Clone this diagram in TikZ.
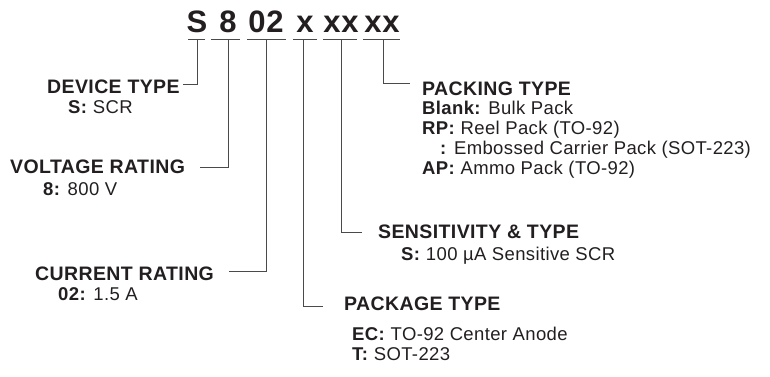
\documentclass[tikz,border=0pt]{standalone}
\usepackage{fontspec}
\setmainfont{Liberation Sans}[LetterSpace=2]
\definecolor{txt}{HTML}{231F20}
\definecolor{ln}{HTML}{4A4A4A}
\tikzset{
  lbl/.style={anchor=base west, inner sep=0pt, text=txt, font=\fontsize{18.5}{20}\selectfont},
  hd/.style={lbl, font=\fontsize{19.5}{21}\selectfont\bfseries},
  code/.style={anchor=base, inner sep=0pt, text=txt, font=\fontsize{31}{33}\selectfont\bfseries},
  bar/.style={draw=ln, line width=0.9pt},
  conn/.style={draw=ln, line width=0.9pt}
}
\begin{document}
\begin{tikzpicture}[x=1pt,y=-1pt]
\useasboundingbox (0,0) rectangle (770,376);
% code letters
\node[code] (cS) at (197,32) {S};
\node[code] (c8) at (228,32) {8};
\node[code] (c02) at (266,32) {02};
\node[code] (cx) at (305,32) {x};
\node[code] (cxx) at (341,32) {xx};
\node[code] (cyy) at (382,32) {xx};
% underbars
\coordinate (bS1) at (188,39); \coordinate (bS2) at (205,39);
\coordinate (b81) at (211,39); \coordinate (b82) at (240,39);
\coordinate (b021) at (247,39); \coordinate (b022) at (286,39);
\coordinate (bx1) at (293,39); \coordinate (bx2) at (317,39);
\coordinate (bxx1) at (323,39); \coordinate (bxx2) at (357,39);
\coordinate (byy1) at (363,39); \coordinate (byy2) at (400,39);
\draw[bar] (bS1) -- (bS2);
\draw[bar] (b81) -- (b82);
\draw[bar] (b021) -- (b022);
\draw[bar] (bx1) -- (bx2);
\draw[bar] (bxx1) -- (bxx2);
\draw[bar] (byy1) -- (byy2);
% drop points
\coordinate (dS) at (197,39);
\coordinate (d8) at (228,39);
\coordinate (d02) at (266,39);
\coordinate (dx) at (303,39);
\coordinate (dxx) at (341,39);
\coordinate (dyy) at (383,39);
% left labels
\node[hd] (dev) at (47,93) {DEVICE TYPE};
\node[lbl] (devS) at (68,113) {\textbf{S:} SCR};
\node[hd] (vol) at (10,173) {VOLTAGE RATING};
\node[lbl] (vol8) at (43,195) {\textbf{8:} 800 V};
\node[hd] (cur) at (35,280) {CURRENT RATING};
\node[lbl] (cur02) at (58,300) {\textbf{02:} 1.5 A};
% right labels
\node[hd] (pk) at (422,95) {PACKING TYPE};
\node[lbl] (pk1) at (422,114) {\textbf{Blank:} Bulk Pack};
\node[lbl] (pk2) at (422,134) {\textbf{RP:} Reel Pack (TO-92)};
\node[lbl] (pk3) at (440,154) {\textbf{:} Embossed Carrier Pack (SOT-223)};
\node[lbl] (pk4) at (422,174) {\textbf{AP:} Ammo Pack (TO-92)};
\node[hd] (sen) at (378,238) {SENSITIVITY \& TYPE};
\node[lbl] (sen1) at (401,260) {\textbf{S:} 100 µA Sensitive SCR};
\node[hd] (pkg) at (344,310) {PACKAGE TYPE};
\node[lbl] (pkg1) at (352,340) {\textbf{EC:} TO-92 Center Anode};
\node[lbl] (pkg2) at (352,360) {\textbf{T:} SOT-223};
% connector ends
\coordinate (eDev) at (183,84);
\coordinate (eVol) at (200,167);
\coordinate (eCur) at (229,271);
\coordinate (ePk) at (410,83);
\coordinate (eSen) at (362,232);
\coordinate (ePkg) at (323,306);
% connectors
\draw[conn] (dS) |- (eDev);
\draw[conn] (d8) |- (eVol);
\draw[conn] (d02) |- (eCur);
\draw[conn] (dyy) |- (ePk);
\draw[conn] (dxx) |- (eSen);
\draw[conn] (dx) |- (ePkg);
\end{tikzpicture}
\end{document}
